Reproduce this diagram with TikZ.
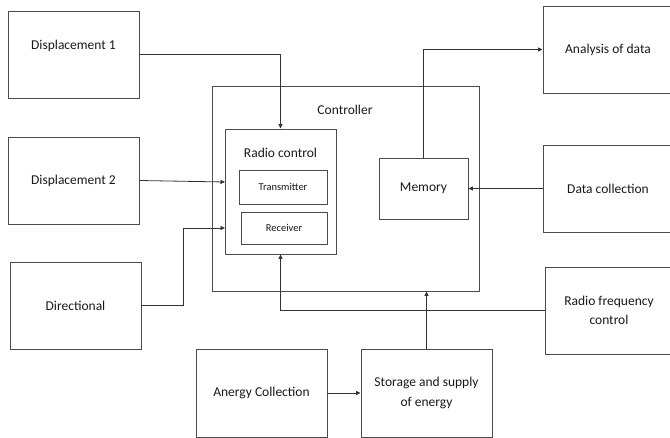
\documentclass[tikz,border=0pt]{standalone}
\usepackage{fontspec}
\setmainfont{Carlito}
\usetikzlibrary{arrows.meta}
\begin{document}
\begin{tikzpicture}[x=1pt,y=-1pt,
  box/.style={draw=black!70,line width=0.9pt,rectangle,inner sep=0pt,
    font=\fontsize{13.5}{19.5}\selectfont,text=black!90,align=center},
  small/.style={box,font=\fontsize{10.5}{12}\selectfont},
  lbl/.style={inner sep=0pt,font=\fontsize{13.5}{15.5}\selectfont,text=black!90,align=center},
  arr/.style={draw=black!80,line width=0.8pt,-{Triangle[length=4.5pt,width=4pt]}}]
\useasboundingbox (0,0) rectangle (670,438);
% outer
\node[box,minimum width=131pt,minimum height=87pt] (d1) at (73.5,54.5) {};
\node[lbl] (d1t) at (73.5,46) {Displacement 1};
\node[box,minimum width=131pt,minimum height=87pt] (d2) at (73.5,180.5) {Displacement 2};
\node[box,minimum width=131pt,minimum height=87pt] (dir) at (75.5,305.5) {Directional};
\node[box,minimum width=267pt,minimum height=205pt] (ctrl) at (345.5,188.5) {};
\node[lbl] (ctrlt) at (345,110) {Controller};
\node[box,minimum width=111pt,minimum height=125pt] (rc) at (280.5,191.5) {};
\node[lbl] (rct) at (280.5,153) {Radio control};
\node[small,minimum width=88pt,minimum height=34pt] (tx) at (283,187) {Transmitter};
\node[small,minimum width=86pt,minimum height=32pt] (rx) at (284,228) {Receiver};
\node[box,minimum width=89pt,minimum height=61pt] (mem) at (423.5,188.5) {Memory};
\node[box,minimum width=130pt,minimum height=87pt] (an) at (608,49.5) {Analysis of data};
\node[box,minimum width=130pt,minimum height=87pt] (dc) at (608,188.5) {Data collection};
\node[box,minimum width=128pt,minimum height=87pt] (rf) at (609,310.5) {Radio frequency\\control};
\node[box,minimum width=131pt,minimum height=88pt] (ae) at (261.5,393) {Anergy Collection};
\node[box,minimum width=131pt,minimum height=88pt] (st) at (426.5,393) {Storage and supply\\of energy};
% connection points
\coordinate (rcin1) at (225,182);
\coordinate (rcin2) at (225,228);
% connectors
\draw[arr] (d1.east) -| (rc.north);
\draw[arr] (d2.east) -- (rcin1);
\draw[arr] (dir.east) -- ++(42,0) |- (rcin2);
\draw[arr] (mem.north) |- (an.west);
\draw[arr] (dc.west) -- (mem.east);
\draw[arr] (rf.west) -| (rc.south);
\draw[arr] (ae.east) -- (st.west);
\draw[arr] (st.north) -- (st.north |- ctrl.south);
\end{tikzpicture}
\end{document}
